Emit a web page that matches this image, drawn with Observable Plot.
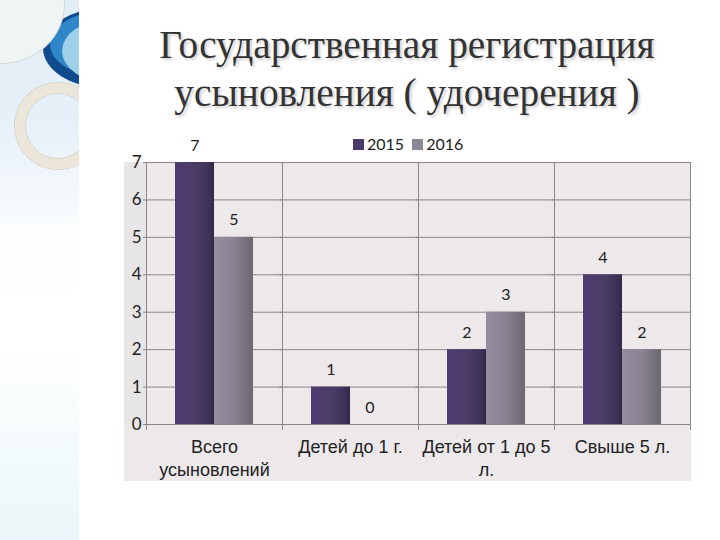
<!DOCTYPE html>
<html lang="ru">
<head>
<meta charset="utf-8">
<script src="https://cdn.jsdelivr.net/npm/d3@7"></script>
<script src="https://cdn.jsdelivr.net/npm/@observablehq/plot@0.6"></script>
<style>
html,body{margin:0;padding:0;background:#fff;width:720px;height:540px;overflow:hidden}
#deco{position:absolute;left:0;top:0;width:79px;height:540px;overflow:hidden;
 background:linear-gradient(180deg,#e2eef7 0,#e6f0f8 120px,#f3f8fc 190px,#fdfefe 240px,#ffffff 340px,#f7fcfd 420px,#eaf6f9 540px)}
#square{position:absolute;left:0;top:0;width:64px;height:63px;background:#eff5f5;border:1px solid #d8dcd6;border-left:none;border-top:none;border-bottom-right-radius:64px 60px}
#lens{position:absolute;left:43px;top:8px;width:124px;height:80px;border-radius:50%;background:#124a8e}
#lens1{position:absolute;left:50px;top:11px;width:110px;height:66px;border-radius:50%;background:#2f86c8}
#lens2{position:absolute;left:62px;top:20px;width:90px;height:62px;border-radius:50%;background:#9fd0ea}
#ring{position:absolute;left:15px;top:83px;width:66px;height:66px;border:10px solid #ece6da;border-radius:50%;box-shadow:0 0 0 1px #d4d2c8,inset 0 0 0 1px #d4d2c8}
#title{position:absolute;left:110px;top:21px;width:594px;text-align:center;font:39.3px/48px "Liberation Serif",serif;color:#333;text-shadow:2px 2px 3px #ccc}
#panel{position:absolute;left:124px;top:162px;width:567px;height:319px;background:#ede8ea}
#strip{position:absolute;left:124px;top:162px;width:22px;height:262px;background:#e7e5e5}
#legend{position:absolute;top:134px;left:353px;height:22px;font:16px/20px Lato,sans-serif;color:#222;white-space:nowrap}
#legend i{display:inline-block;width:11px;height:11px;vertical-align:-0px;margin-right:3px}
#legend span{margin-right:8px}
#chart{position:absolute;left:0;top:130px}
#chart svg{background:transparent}
</style>
</head>
<body>
<div id="deco"><div id="lens"></div><div id="lens1"></div><div id="lens2"></div><div id="square"></div><div id="ring"></div></div>
<div id="title">Государственная регистрация<br>усыновления ( удочерения )</div>
<div id="panel"></div><div id="strip"></div>
<div id="legend"><span><i style="background:#4a3b68"></i>2015</span><span><i style="background:#8e8896"></i>2016</span></div>
<div id="chart"></div>
<script>
const categories = ["Всего\nусыновлений", "Детей до 1 г.", "Детей от 1 до 5\nл.", "Свыше 5 л."];
const years = ["2015", "2016"];
const values2015 = [7, 1, 2, 4];
const values2016 = [5, 0, 3, 2];
const yTicks = [0, 1, 2, 3, 4, 5, 6, 7];

const rows = categories.flatMap((category, i) => [
  {category, year: years[0], value: values2015[i]},
  {category, year: years[1], value: values2016[i]}
]);
const gridColor = "#8b8689";

const plot = Plot.plot({
  width: 720,
  height: 410,
  marginLeft: 146,
  marginRight: 30,
  marginTop: 32,
  marginBottom: 116,
  style: {background: "transparent"},
  fx: {domain: categories, paddingInner: 0, paddingOuter: 0, round: false, label: null},
  x: {domain: years, paddingInner: 0, paddingOuter: 0.744, round: false, axis: null, label: null},
  y: {domain: [0, 7], label: null},
  color: {type: "ordinal", domain: years, range: ["url(#g2015)", "url(#g2016)"]},
  marks: [
    Plot.ruleY(yTicks, {stroke: gridColor, strokeOpacity: 1, insetLeft: -3}),
    Plot.frame({anchor: "left", stroke: gridColor, strokeOpacity: 1, insetBottom: -5}),
    Plot.frame({anchor: "right", stroke: gridColor, strokeOpacity: 1, insetBottom: -5}),
    Plot.barY(rows, {fx: "category", x: "year", y: "value", fill: "year"}),
    Plot.text(rows, {fx: "category", x: "year", y: "value", text: d => String(d.value), dy: -17,
      fontSize: 16, fontFamily: "Lato, sans-serif", fill: "#222"}),
    Plot.axisY({ticks: yTicks, tickSize: 0, tickPadding: 5, tickFormat: d => String(d), label: null,
      fontSize: 17, fontFamily: "Lato, sans-serif", fill: "#222"}),
    Plot.axisFx({anchor: "bottom", tickSize: 0, tickPadding: 12, label: null, lineHeight: 1.28,
      lineWidth: 30, fontSize: 18, fontFamily: "'Liberation Sans', sans-serif", fill: "#222"})
  ]
});
plot.insertAdjacentHTML("afterbegin", `<defs>
  <linearGradient id="g2015" x1="0" x2="1" y1="0" y2="0">
    <stop offset="0" stop-color="#4f3b70"/><stop offset="0.55" stop-color="#493c65"/>
    <stop offset="0.85" stop-color="#3f3358"/><stop offset="1" stop-color="#312846"/>
  </linearGradient>
  <linearGradient id="g2016" x1="0" x2="1" y1="0" y2="0">
    <stop offset="0" stop-color="#968da0"/><stop offset="0.5" stop-color="#8a8492"/>
    <stop offset="1" stop-color="#6b6870"/>
  </linearGradient>
</defs>`);
document.getElementById("chart").appendChild(plot);
</script>
</body>
</html>
